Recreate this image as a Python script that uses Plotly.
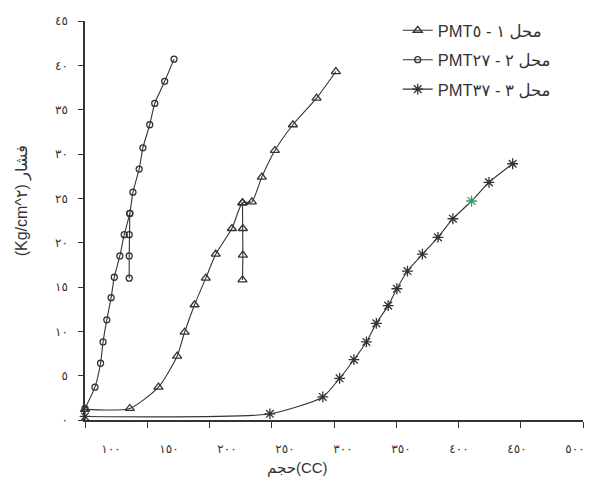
import plotly.graph_objects as go

# ---- data ----
x_ticks = [100, 150, 200, 250, 300, 350, 400, 450, 500]
x_tick_labels = ["١٠٠", "١٥٠", "٢٠٠", "٢٥٠", "٣٠٠", "٣٥٠", "٤٠٠", "٤٥٠", "٥٠٠"]
y_ticks = [0, 5, 10, 15, 20, 25, 30, 35, 40, 45]
y_tick_labels = ["٠", "٥", "١٠", "١٥", "٢٠", "٢٥", "٣٠", "٣٥", "٤٠", "٤٥"]

s1_name = "PMT٥\u200e - محل ١"
s1_x = [100, 136, 159, 174, 180, 188, 197, 205, 218, 226.5, 234, 242, 252.5, 267, 286, 301.5]
s1_y = [1.2, 1.3, 3.7, 7.2, 9.9, 13.0, 16.0, 18.7, 21.6, 24.5, 24.6, 27.4, 30.4, 33.3, 36.3, 39.3]
s1_branch_x = [226.5, 226.8, 226.8, 226.5]
s1_branch_y = [24.5, 21.6, 18.6, 15.8]

s2_name = "PMT٢٧\u200e - محل ٢"
s2_x = [100, 108, 112.5, 114.5, 117.5, 121, 123.5, 128, 131.5, 136, 138.5, 143.5, 146.5, 152, 156, 164, 171.5]
s2_y = [1.3, 3.7, 6.4, 8.8, 11.3, 13.8, 16.1, 18.5, 20.9, 23.3, 25.7, 28.3, 30.7, 33.3, 35.7, 38.2, 40.7]
s2_branch_x = [136, 135.5, 135.5, 135.5]
s2_branch_y = [23.3, 20.9, 18.5, 16.0]

s3_name = "PMT٣٧\u200e - محل ٣"
s3_x = [100, 248.5, 291, 304.5, 316, 326, 334, 343.5, 350.5, 359, 371, 383.5, 395.5, 410.5, 424.5, 443.5]
s3_y = [0.4, 0.7, 2.6, 4.7, 6.8, 8.8, 10.9, 12.9, 14.8, 16.8, 18.7, 20.6, 22.7, 24.7, 26.8, 28.9]

x_title = "حجم(CC)"
y_title = "(Kg/cm^٢)\u200e فشار"

# ---- styling ----
INK = "#333333"
FONT = "Liberation Sans, DejaVu Sans, Arial, sans-serif"
s3_marker_colors = [INK] * len(s3_x)
s3_marker_colors[13] = "#3a9a6a"

fig = go.Figure()

def main_trace(x, y, name, symbol, size, group, mcolor=INK):
    return go.Scatter(
        x=x, y=y, name=name, mode="lines+markers", legendgroup=group,
        line=dict(color=INK, width=1.1, shape="spline", smoothing=0.6),
        marker=dict(symbol=symbol, size=size, color=mcolor,
                    line=dict(color=mcolor, width=1.3)),
        cliponaxis=False,
    )

def branch_trace(x, y, symbol, size, group):
    return go.Scatter(
        x=x, y=y, mode="lines+markers", showlegend=False, legendgroup=group,
        line=dict(color=INK, width=1.1),
        marker=dict(symbol=symbol, size=size, color=INK,
                    line=dict(color=INK, width=1.3)),
        cliponaxis=False, hoverinfo="skip",
    )

fig.add_trace(main_trace(s1_x, s1_y, s1_name, "triangle-up-open", 8, "g1"))
fig.add_trace(branch_trace(s1_branch_x, s1_branch_y, "triangle-up-open", 8, "g1"))
fig.add_trace(main_trace(s2_x, s2_y, s2_name, "circle-open", 6, "g2"))
fig.add_trace(branch_trace(s2_branch_x, s2_branch_y, "circle-open", 6, "g2"))
fig.add_trace(main_trace(s3_x, s3_y, s3_name, "asterisk-open", 9, "g3", s3_marker_colors))
# empty carrier so the label axis (x2) is drawn; it draws no mark
fig.add_trace(go.Scatter(x=x_ticks, y=[None] * len(x_ticks), xaxis="x2", yaxis="y",
                         mode="markers", showlegend=False, hoverinfo="skip"))

fig.update_layout(
    width=613, height=480,
    margin=dict(l=85, r=30, t=21, b=60),
    paper_bgcolor="white", plot_bgcolor="white",
    font=dict(family=FONT, color=INK, size=12),
    showlegend=True,
    legend=dict(x=0.628, y=1.02, xanchor="left", yanchor="top",
                bgcolor="rgba(0,0,0,0)", font=dict(size=16.5, color=INK),
                traceorder="grouped", tracegroupgap=5),
    xaxis=dict(range=[100, 500], tickvals=x_ticks, showticklabels=False,
               ticks="outside", ticklen=6, tickcolor=INK, showgrid=False,
               zeroline=False, showline=True, linecolor=INK, linewidth=1.5),
    # tick labels of the original figure sit on a slightly narrower scale than the ticks
    xaxis2=dict(overlaying="x", side="bottom", anchor="y",
                range=[77.6, 506.9], tickvals=x_ticks, ticktext=x_tick_labels,
                ticks="", showgrid=False, zeroline=False, showline=False,
                ticklabelstandoff=20, tickfont=dict(size=12)),
    yaxis=dict(range=[0, 45], tickvals=y_ticks, ticktext=y_tick_labels,
               ticks="outside", ticklen=5, tickcolor=INK, showgrid=False,
               zeroline=False, showline=True, linecolor=INK, linewidth=1.5,
               ticklabelstandoff=8, tickfont=dict(size=12)),
    annotations=[
        dict(text=x_title, xref="paper", yref="paper", x=0.426, y=-0.12,
             showarrow=False, xanchor="center", yanchor="middle",
             font=dict(size=15, color=INK)),
        dict(text=y_title, xref="paper", yref="paper", x=-0.125, y=0.55,
             showarrow=False, xanchor="center", yanchor="middle",
             textangle=-90, font=dict(size=16, color=INK)),
    ],
)

fig.write_html("out.html")
